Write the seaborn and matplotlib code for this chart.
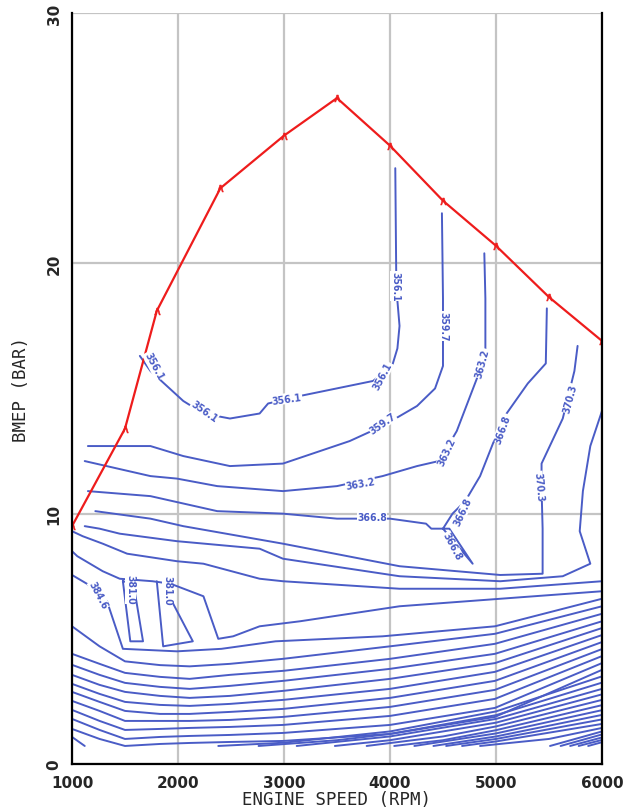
import numpy as np
import pandas as pd
import seaborn as sns
import matplotlib.pyplot as plt
from matplotlib.ticker import MultipleLocator

# full load line (rpm, bar)
wot_speed = [1000, 1500, 1800, 2400, 3000, 3500, 4000, 4500, 5000, 5500, 6000]
wot_bmep = [9.5, 13.4, 18.1, 23.0, 25.1, 26.6, 24.7, 22.5, 20.7, 18.65, 16.9]

# BSFC iso-lines, (rpm, bar)
iso_356 = [(1640, 16.3), (1740, 15.7), (2050, 14.5), (2240, 14.0), (2490, 13.8),
           (2770, 14.0), (2850, 14.4), (3150, 14.7), (3840, 15.3), (4020, 15.9),
           (4070, 16.6), (4090, 17.5), (4060, 19.0), (4050, 23.8)]
iso_360 = [(1150, 12.7), (1740, 12.7), (2050, 12.3), (2490, 11.9), (2990, 12.0),
           (3620, 12.9), (3930, 13.5), (4255, 14.3), (4425, 15.0), (4500, 15.9),
           (4500, 18.6), (4490, 22.0)]
iso_363 = [(1120, 12.1), (1740, 11.5), (1990, 11.4), (2370, 11.1), (2990, 10.9),
           (3500, 11.1), (3930, 11.5), (4255, 11.9), (4460, 12.1), (4520, 12.5),
           (4630, 13.3), (4820, 15.4), (4900, 16.3), (4900, 18.6), (4890, 20.4)]
iso_367 = [(1150, 10.9), (1740, 10.7), (2370, 10.1), (2990, 10.0), (3500, 9.8),
           (4000, 9.8), (4340, 9.6), (4390, 9.4), (4560, 9.4), (4780, 8.0),
           (4500, 9.4), (4590, 10.0), (4710, 10.5), (4850, 11.5), (4990, 13.0),
           (5100, 14.0), (5300, 15.2), (5470, 16.0), (5480, 18.2)]
iso_370 = [(1220, 10.1), (1740, 9.8), (2050, 9.5), (2990, 8.8), (4090, 7.9),
           (5040, 7.55), (5440, 7.6), (5440, 9.4), (5430, 11.0), (5430, 12.0),
           (5630, 13.8), (5740, 15.7), (5770, 16.7)]
iso_374 = [(1120, 9.5), (1260, 9.4), (1450, 9.2), (1990, 8.9), (2770, 8.6),
           (2990, 8.2), (4090, 7.5), (5040, 7.3), (5630, 7.5), (5890, 8.0),
           (5790, 9.3), (5820, 10.9), (5890, 12.7), (6000, 14.1)]
iso_377 = [(1000, 9.3), (1100, 9.1), (1290, 8.8), (1520, 8.4), (1990, 8.1),
           (2240, 8.0), (2770, 7.4), (2990, 7.3), (4090, 7.0), (5040, 7.0),
           (6000, 7.3)]
iso_381 = [(1000, 8.5), (1050, 8.3), (1290, 7.7), (1450, 7.4), (1760, 7.3),
           (1930, 7.2), (2240, 6.7), (2380, 5.0), (2520, 5.1), (2770, 5.5),
           (3150, 5.7), (4090, 6.3), (5040, 6.6), (6000, 6.9)]
loop_a = [(1480, 7.3), (1550, 4.9), (1670, 4.9), (1580, 7.2), (1480, 7.3)]
loop_b = [(1800, 7.3), (1860, 4.7), (2140, 4.9), (1930, 6.6), (1870, 7.25)]
iso_385 = [(1000, 7.55), (1140, 7.2), (1240, 6.8), (1330, 6.5), (1480, 4.6),
           (1990, 4.5), (2410, 4.6), (2920, 4.9), (3930, 5.1), (4990, 5.5),
           (6000, 6.6)]

# lower load lines starting at the left edge, bar at these speeds
fan_speed = [1000, 1260, 1500, 1830, 2110, 2490, 2990, 4000, 4990, 6000]
fan_bmep = [
    [5.5, 4.7, 4.1, 3.95, 3.9, 4.0, 4.2, 4.7, 5.2, 6.3],
    [4.4, 4.0, 3.64, 3.48, 3.4, 3.56, 3.72, 4.2, 4.8, 6.0],
    [3.96, 3.56, 3.24, 3.08, 3.0, 3.12, 3.32, 3.8, 4.4, 5.7],
    [3.56, 3.16, 2.88, 2.72, 2.64, 2.72, 2.92, 3.4, 4.03, 5.43],
    [3.2, 2.8, 2.48, 2.36, 2.32, 2.4, 2.56, 3.0, 3.68, 5.15],
    [2.88, 2.48, 2.12, 2.0, 2.0, 2.08, 2.2, 2.64, 3.32, 4.87],
    [2.52, 2.12, 1.72, 1.72, 1.72, 1.76, 1.88, 2.28, 2.96, 4.59],
    [2.16, 1.72, 1.36, 1.4, 1.44, 1.48, 1.56, 1.92, 2.6, 4.31],
    [1.8, 1.36, 1.0, 1.08, 1.12, 1.16, 1.24, 1.56, 2.24, 4.03],
    [1.4, 1.0, 0.72, 0.8, 0.84, 0.88, 0.92, 1.2, 1.88, 3.76],
]
fan_short = [(1000, 1.08), (1120, 0.72)]

# lines that rise from the lowest load point, (rpm, bar)
low_lines = [
    [(2380, 0.72), (3000, 0.85), (4000, 1.3), (5000, 2.1), (6000, 3.5)],
    [(2760, 0.72), (3500, 0.95), (4000, 1.2), (5000, 1.95), (6000, 3.25)],
    [(3120, 0.72), (4000, 1.1), (5000, 1.8), (6000, 3.0)],
    [(3480, 0.72), (4000, 0.95), (5000, 1.65), (6000, 2.78)],
    [(3780, 0.72), (4500, 1.1), (5000, 1.5), (6000, 2.56)],
    [(4040, 0.72), (4500, 0.95), (5000, 1.35), (6000, 2.35)],
    [(4230, 0.72), (5000, 1.22), (6000, 2.15)],
    [(4410, 0.72), (5000, 1.1), (6000, 1.96)],
    [(4530, 0.72), (5000, 1.0), (6000, 1.78)],
    [(4680, 0.72), (5000, 0.9), (6000, 1.6)],
    [(4850, 0.72), (5500, 1.0), (6000, 1.44)],
    [(5510, 0.72), (6000, 1.3)],
    [(5610, 0.72), (6000, 1.18)],
    [(5700, 0.72), (6000, 1.06)],
    [(5780, 0.72), (6000, 0.96)],
    [(5870, 0.72), (6000, 0.87)],
]

# label text, rpm, bar, angle
labels = [
    ("356.1", 1770, 15.9, -62), ("356.1", 2250, 14.1, -35), ("356.1", 3030, 14.6, 8),
    ("356.1", 3930, 15.5, 62), ("356.1", 4055, 19.1, -90),
    ("359.7", 4500, 17.5, -90), ("359.7", 3930, 13.6, 35),
    ("363.2", 4870, 16.0, 75), ("363.2", 4540, 12.5, 65), ("363.2", 3720, 11.2, 10),
    ("366.8", 5060, 13.4, 70), ("366.8", 4690, 10.1, 65), ("366.8", 4590, 8.7, -62),
    ("366.8", 3830, 9.85, 0),
    ("370.3", 5700, 14.6, 75), ("370.3", 5400, 11.1, -85),
    ("384.6", 1250, 6.75, -62), ("381.0", 1550, 7.0, -90), ("381.0", 1900, 6.95, -90),
]

rows = []
all_lines = [iso_356, iso_360, iso_363, iso_367, iso_370, iso_374, iso_377, iso_381,
             loop_a, loop_b, iso_385, fan_short] + low_lines
all_lines += [list(zip(fan_speed, b)) for b in fan_bmep]
for k, line in enumerate(all_lines):
    for j, (s, b) in enumerate(line):
        rows.append({"speed": s, "bmep": b, "line": k, "order": j})
iso = pd.DataFrame(rows)

sns.set_style("white")
blue = "#4a5cc6"
red = "#ee1c1c"

fig = plt.figure(figsize=(6.24, 8.12), dpi=100)
ax = fig.add_axes([0.1154, 0.0579, 0.8493, 0.9249])

sns.lineplot(data=iso, x="speed", y="bmep", units="line", estimator=None,
             sort=False, color=blue, lw=1.4, ax=ax)
sns.lineplot(x=wot_speed, y=wot_bmep, color=red, lw=1.6, marker=r"$\wedge$",
             markersize=5, mec=red, mfc=red, markeredgewidth=0.4, sort=False, ax=ax)

for txt, s, b, ang in labels:
    ax.text(s, b, txt, color=blue, fontsize=7.5, rotation=ang, ha="center", va="center",
            fontweight="bold", fontstretch="condensed", rotation_mode="anchor",
            bbox=dict(facecolor="white", edgecolor="none", pad=0.3))

ax.set_xlim(1000, 6000)
ax.set_ylim(0, 30)
ax.xaxis.set_major_locator(MultipleLocator(1000))
ax.xaxis.set_minor_locator(MultipleLocator(100))
ax.yaxis.set_major_locator(MultipleLocator(10))
ax.yaxis.set_minor_locator(MultipleLocator(1))
ax.grid(True, which="major", color="#c4c4c4", lw=1.6)
ax.set_axisbelow(True)
ax.tick_params(axis="x", which="major", direction="inout", length=8, width=1.2, labelsize=11, pad=4)
ax.tick_params(axis="x", which="minor", direction="in", length=3, width=0.8)
ax.tick_params(axis="y", which="major", direction="inout", length=8, width=1.2, labelsize=11,
               labelrotation=90)
ax.tick_params(axis="y", which="minor", direction="out", length=3, width=0.8)
for lab in ax.get_yticklabels() + ax.get_xticklabels():
    lab.set_fontweight("bold")
for lab in ax.get_yticklabels():
    lab.set_va("center")
ax.spines["top"].set_visible(False)
for sp in ["left", "bottom", "right"]:
    ax.spines[sp].set_linewidth(1.6)
    ax.spines[sp].set_color("black")
ax.set_xlabel("ENGINE SPEED (RPM)", fontsize=12.5, family="DejaVu Sans Mono", labelpad=0)
ax.set_ylabel("BMEP (BAR)", fontsize=12.5, family="DejaVu Sans Mono", labelpad=12)

fig.savefig("out.png", dpi=100, facecolor="white")
